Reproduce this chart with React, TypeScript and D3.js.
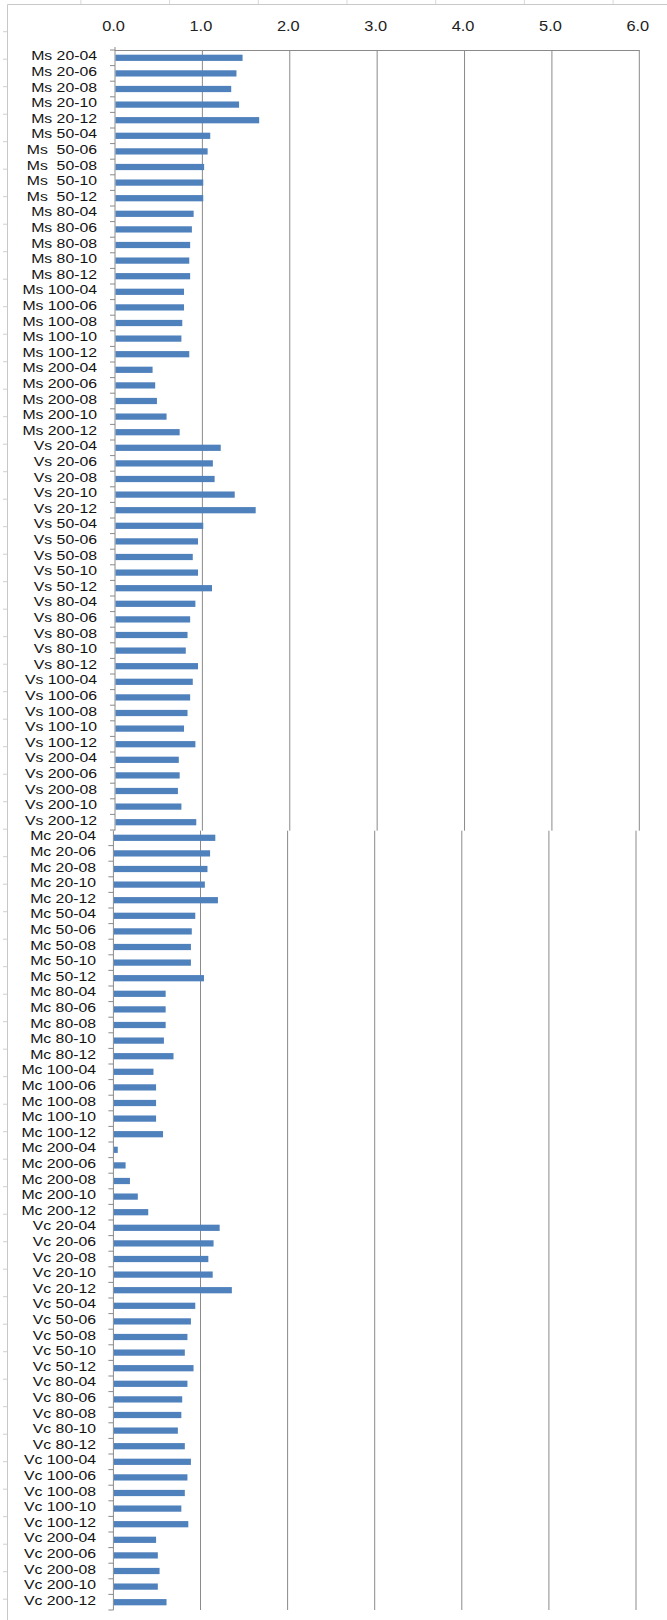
import React from 'react';
import * as d3 from 'd3';

// categories + values
const msLabels = [
  'Ms 20-04', 'Ms 20-06', 'Ms 20-08', 'Ms 20-10', 'Ms 20-12',
  'Ms 50-04', 'Ms  50-06', 'Ms  50-08', 'Ms  50-10', 'Ms  50-12',
  'Ms 80-04', 'Ms 80-06', 'Ms 80-08', 'Ms 80-10', 'Ms 80-12',
  'Ms 100-04', 'Ms 100-06', 'Ms 100-08', 'Ms 100-10', 'Ms 100-12',
  'Ms 200-04', 'Ms 200-06', 'Ms 200-08', 'Ms 200-10', 'Ms 200-12',
];
const msValues = [
  1.46, 1.39, 1.33, 1.42, 1.65,
  1.09, 1.06, 1.02, 1.01, 1.01,
  0.90, 0.88, 0.86, 0.85, 0.86,
  0.79, 0.79, 0.77, 0.76, 0.85,
  0.43, 0.46, 0.48, 0.59, 0.74,
];

const vsLabels = [
  'Vs 20-04', 'Vs 20-06', 'Vs 20-08', 'Vs 20-10', 'Vs 20-12',
  'Vs 50-04', 'Vs 50-06', 'Vs 50-08', 'Vs 50-10', 'Vs 50-12',
  'Vs 80-04', 'Vs 80-06', 'Vs 80-08', 'Vs 80-10', 'Vs 80-12',
  'Vs 100-04', 'Vs 100-06', 'Vs 100-08', 'Vs 100-10', 'Vs 100-12',
  'Vs 200-04', 'Vs 200-06', 'Vs 200-08', 'Vs 200-10', 'Vs 200-12',
];
const vsValues = [
  1.21, 1.12, 1.14, 1.37, 1.61,
  1.01, 0.95, 0.89, 0.95, 1.11,
  0.92, 0.86, 0.83, 0.81, 0.95,
  0.89, 0.86, 0.83, 0.79, 0.92,
  0.73, 0.74, 0.72, 0.76, 0.93,
];

const mcLabels = [
  'Mc 20-04', 'Mc 20-06', 'Mc 20-08', 'Mc 20-10', 'Mc 20-12',
  'Mc 50-04', 'Mc 50-06', 'Mc 50-08', 'Mc 50-10', 'Mc 50-12',
  'Mc 80-04', 'Mc 80-06', 'Mc 80-08', 'Mc 80-10', 'Mc 80-12',
  'Mc 100-04', 'Mc 100-06', 'Mc 100-08', 'Mc 100-10', 'Mc 100-12',
  'Mc 200-04', 'Mc 200-06', 'Mc 200-08', 'Mc 200-10', 'Mc 200-12',
];
const mcValues = [
  1.17, 1.11, 1.08, 1.05, 1.20,
  0.94, 0.90, 0.89, 0.89, 1.04,
  0.60, 0.60, 0.60, 0.58, 0.69,
  0.46, 0.49, 0.49, 0.49, 0.57,
  0.05, 0.14, 0.19, 0.28, 0.40,
];

const vcLabels = [
  'Vc 20-04', 'Vc 20-06', 'Vc 20-08', 'Vc 20-10', 'Vc 20-12',
  'Vc 50-04', 'Vc 50-06', 'Vc 50-08', 'Vc 50-10', 'Vc 50-12',
  'Vc 80-04', 'Vc 80-06', 'Vc 80-08', 'Vc 80-10', 'Vc 80-12',
  'Vc 100-04', 'Vc 100-06', 'Vc 100-08', 'Vc 100-10', 'Vc 100-12',
  'Vc 200-04', 'Vc 200-06', 'Vc 200-08', 'Vc 200-10', 'Vc 200-12',
];
const vcValues = [
  1.22, 1.15, 1.09, 1.14, 1.36,
  0.94, 0.89, 0.85, 0.82, 0.92,
  0.85, 0.79, 0.78, 0.74, 0.82,
  0.89, 0.85, 0.82, 0.78, 0.86,
  0.49, 0.51, 0.53, 0.51, 0.61,
];

const xTicks = [0, 1, 2, 3, 4, 5, 6];

const W = 667;
const H = 1620;
const plotTop = 50;
const plotBottom = 1610;
const seam = 830.7; // screenshot was stitched here, lower half sits a bit to the left

const BAR = '#4F81BD';
const GRID = '#8a8a8a';
const FONT = '"Liberation Sans", Arial, sans-serif';
const FS = 13.5;
const STRETCH = 1.17; // source text is wide-ish

export default function App() {
  const cats = [...msLabels, ...vsLabels, ...mcLabels, ...vcLabels];
  const vals = [...msValues, ...vsValues, ...mcValues, ...vcValues];
  const half = msLabels.length + vsLabels.length;

  const y = d3.scaleBand<string>()
    .domain(cats)
    .range([plotTop, plotBottom])
    .paddingInner(0.6)
    .paddingOuter(0.3);

  const xTop = d3.scaleLinear().domain([0, 6]).range([115, 639.3]);
  const xBot = d3.scaleLinear().domain([0, 6]).range([113.4, 636]);

  const step = y.step();
  const bounds = d3.range(cats.length + 1).map(k => plotTop + k * step);

  // faint bits of the neighbouring sheet around the frame
  const leftMarks = d3.range(31.7, H, 27.5);
  const topMarks = d3.range(80.9, W, 88.7);

  return (
    <svg width={W} height={H} style={{ position: 'absolute', left: 0, top: 0, background: '#fff' }}>
      {/* outer frame */}
      <line x1={7.5} x2={W} y1={4.5} y2={4.5} stroke="#c8c8c8" />
      <line x1={7.5} x2={7.5} y1={4.5} y2={H} stroke="#c8c8c8" />
      {topMarks.map((x, i) => (
        <line key={'tm' + i} x1={x} x2={x} y1={0} y2={4} stroke="#d8d8d8" />
      ))}
      {leftMarks.map((v, i) => (
        <line key={'lm' + i} x1={3} x2={7} y1={v} y2={v} stroke="#d0d0d0" />
      ))}

      {/* x tick labels */}
      {xTicks.map(t => (
        <g key={'xt' + t} transform={`translate(${xTop(t) - 1.5},30.5) scale(${STRETCH},1)`}>
          <text textAnchor="middle" fontFamily={FONT} fontSize={FS + 0.5} fill="#222">
            {t.toFixed(1)}
          </text>
        </g>
      ))}

      {/* top axis line */}
      <line x1={xTop(0)} x2={xTop(6)} y1={plotTop + 0.5} y2={plotTop + 0.5} stroke={GRID} />

      {/* gridlines, upper and lower part */}
      {xTicks.map(t => (
        <g key={'g' + t}>
          <line x1={xTop(t)} x2={xTop(t)} y1={t === 0 ? plotTop - 3 : plotTop} y2={seam} stroke={GRID} />
          <line x1={xBot(t)} x2={xBot(t)} y1={seam} y2={plotBottom} stroke={GRID} />
        </g>
      ))}

      {/* category ticks */}
      {bounds.map((b, k) => {
        const ax = b <= seam ? xTop(0) : xBot(0);
        return <line key={'ct' + k} x1={ax - 5} x2={ax} y1={b} y2={b} stroke={GRID} />;
      })}

      {/* bars */}
      {cats.map((c, i) => {
        const xs = i < half ? xTop : xBot;
        return (
          <rect key={'b' + i} x={xs(0) + 0.5} y={y(c)} width={xs(vals[i]) - xs(0) - 0.5}
            height={y.bandwidth()} fill={BAR} />
        );
      })}

      {/* category labels */}
      {cats.map((c, i) => (
        <g key={'l' + i}
          transform={`translate(${i < half ? 97 : 96},${(y(c) as number) + y.bandwidth() / 2 + 2.5}) scale(${STRETCH},1)`}>
          <text textAnchor="end" fontFamily={FONT} fontSize={FS} fill="#111" style={{ whiteSpace: 'pre' }}>
            {c}
          </text>
        </g>
      ))}
    </svg>
  );
}
